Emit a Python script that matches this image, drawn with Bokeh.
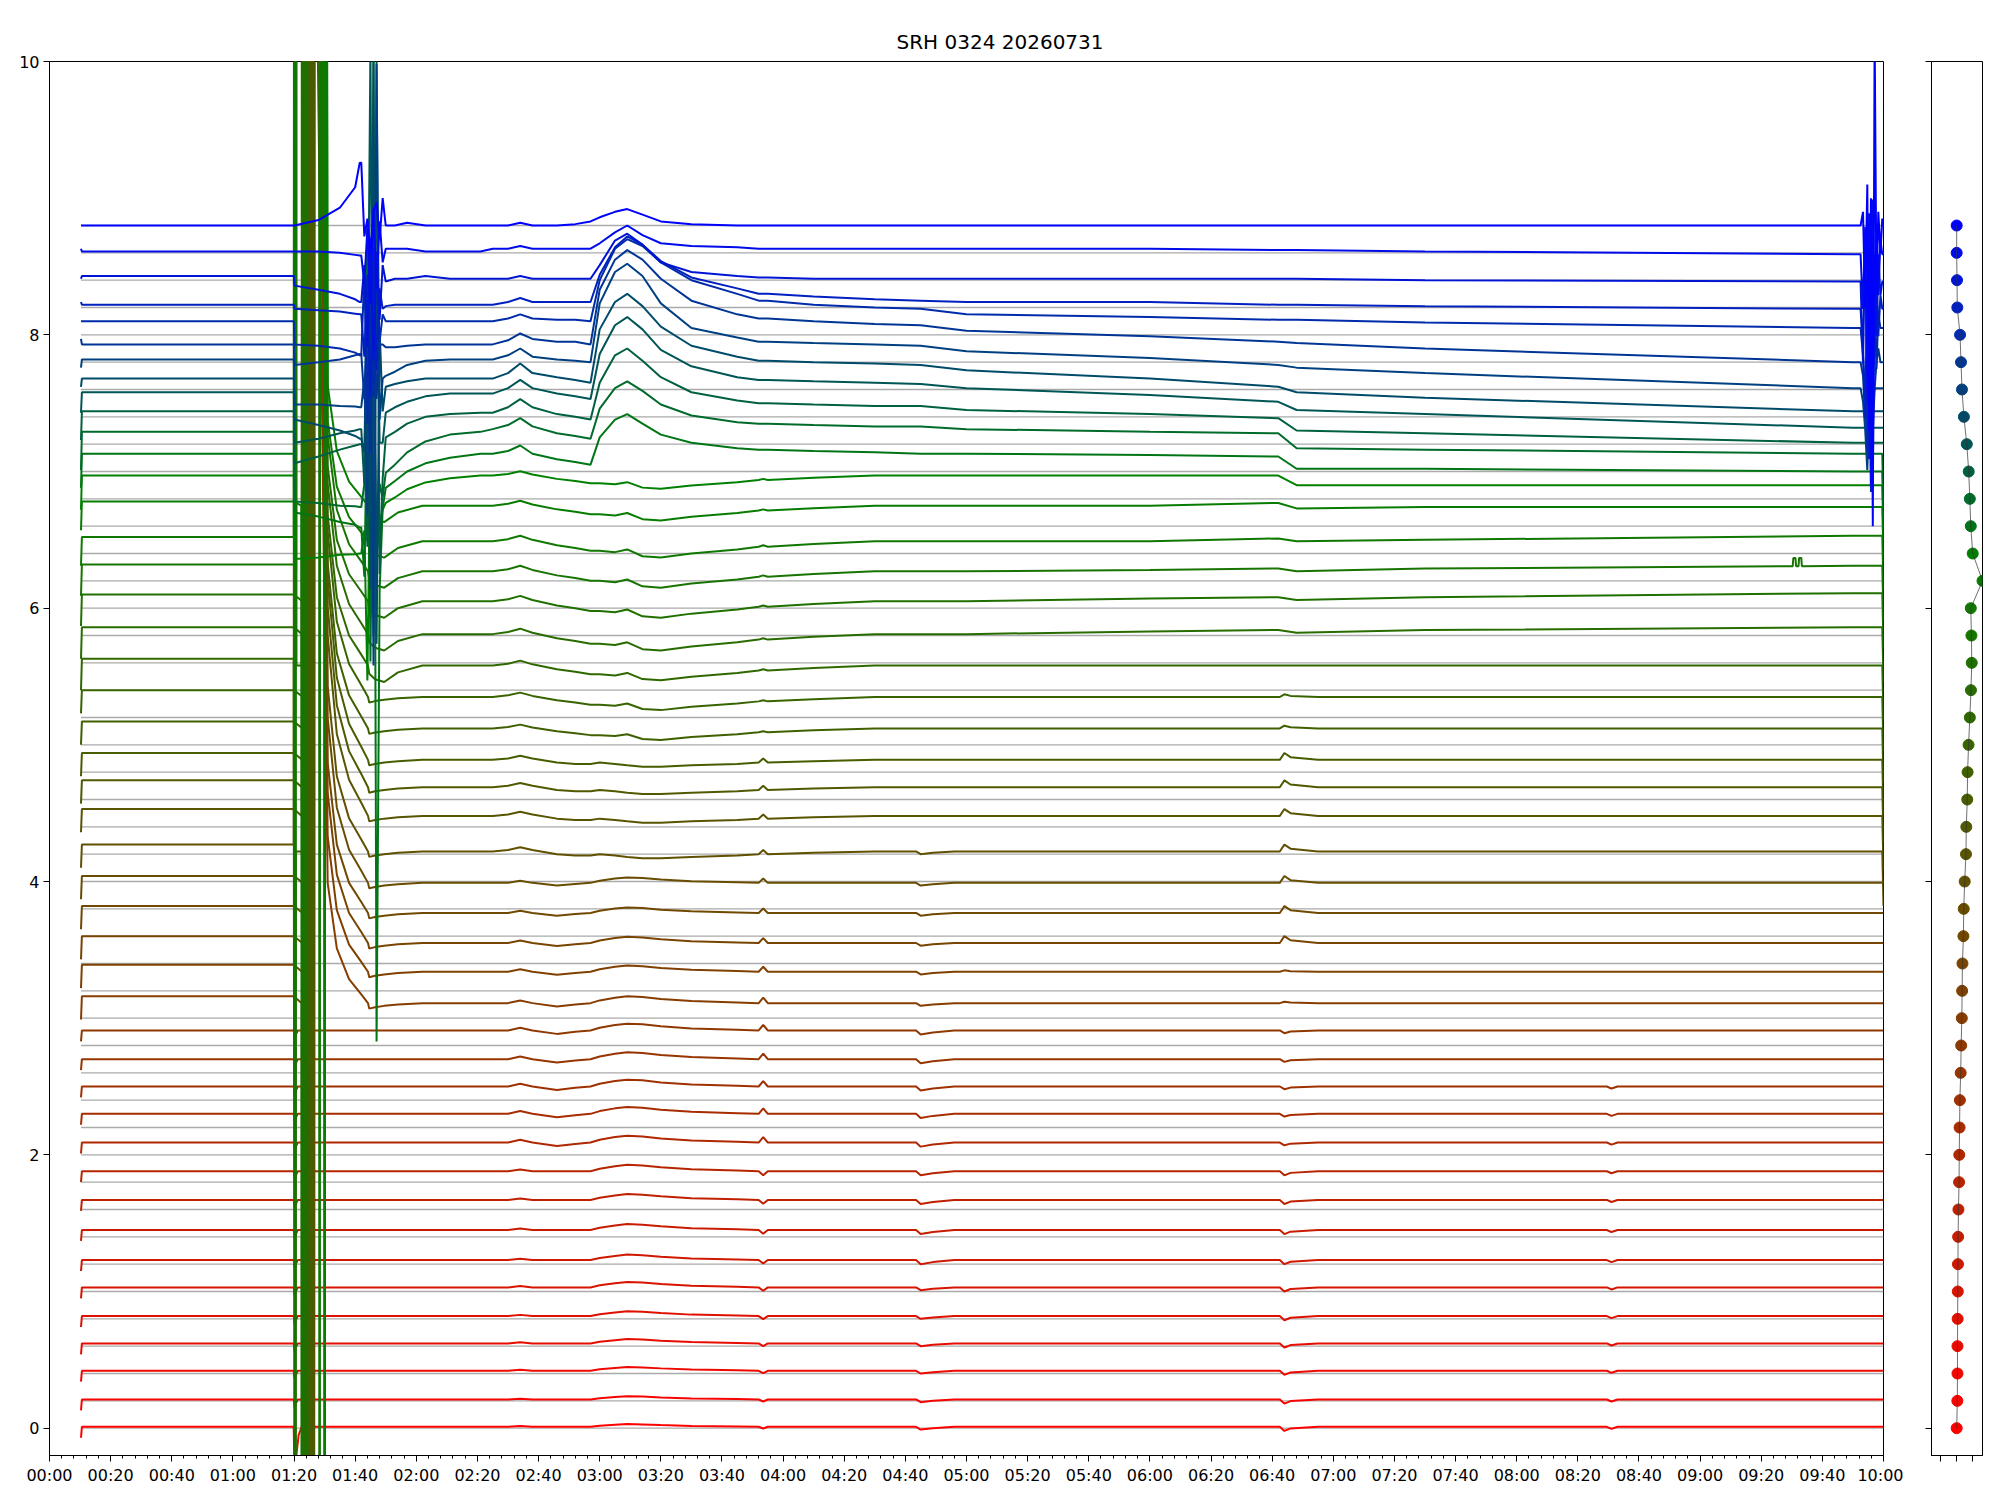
import numpy as np
from bokeh.plotting import figure
from bokeh.layouts import row
from bokeh.models import Range1d, FixedTicker, ColumnDataSource
from bokeh.embed import file_html
from bokeh.resources import INLINE

TITLE = "SRH 0324 20260731"

# ---------------- data ----------------
channel_levels = [0.0, 0.2, 0.4, 0.6, 0.8, 1.0, 1.2, 1.4, 1.6, 1.8, 2.0, 2.2, 2.4, 2.6, 2.8,
                  3.0, 3.2, 3.4, 3.6, 3.8, 4.0, 4.2, 4.4, 4.6, 4.8, 5.0, 5.2, 5.4, 5.6, 5.8,
                  6.0, 6.2, 6.4, 6.6, 6.8, 7.0, 7.2, 7.4, 7.6, 7.8, 8.0, 8.2, 8.4, 8.6, 8.8]

# trace level above its baseline (at 05:00)
trace_dev = [0.01, 0.01, 0.02, 0.02, 0.02, 0.03, 0.03, 0.05, 0.07, 0.08,
             0.09, 0.10, 0.10, 0.10, 0.11, 0.11, 0.14, 0.15, 0.17, 0.19,
             0.22, 0.28, 0.29, 0.29, 0.32, 0.35, 0.38, 0.41, 0.45, 0.47,
             0.49, 0.55, 0.57, 0.53, 0.51, 0.45, 0.41, 0.34, 0.28, 0.23,
             0.15, 0.04, 0.01, 0.03, 0.00]

# drop of the first sample at 00:10
start_drop = [0.08] * 15 + [0.12] * 11 + [0.18] * 6 + [0.25, 0.25] + \
             [0.30, 0.22, 0.18, 0.12, 0.12, 0.06, 0.05] + [0.0, 0.0, 0.0, 0.0]

# level before 01:20, relative to trace_dev
pre_dev = [0.0] * 15 + [0.05] * 15 + [0.03, 0.03] + [0.0, 0.0] + \
          [-0.02, -0.01, -0.03, -0.06, -0.06, -0.10, -0.05] + [-0.02, 0.02, -0.02, 0.0]

# right panel: one value per channel
side_x = [0.01, 0.05, 0.06, 0.06, 0.07, 0.08, 0.09, 0.10, 0.12, 0.16,
          0.17, 0.19, 0.21, 0.26, 0.29, 0.33, 0.35, 0.37, 0.43, 0.45,
          0.51, 0.59, 0.61, 0.67, 0.69, 0.75, 0.83, 0.90, 0.95, 0.93,
          0.89, 1.62, 1.01, 0.89, 0.83, 0.76, 0.64, 0.46, 0.34, 0.28,
          0.22, 0.05, 0.03, 0.01, 0.01]

time_tick_labels = ["00:00", "00:20", "00:40", "01:00", "01:20", "01:40", "02:00", "02:20",
                    "02:40", "03:00", "03:20", "03:40", "04:00", "04:20", "04:40", "05:00",
                    "05:20", "05:40", "06:00", "06:20", "06:40", "07:00", "07:20", "07:40",
                    "08:00", "08:20", "08:40", "09:00", "09:20", "09:40", "10:00"]
time_tick_minutes = [0, 20, 40, 60, 80, 100, 120, 140, 160, 180, 200, 220, 240, 260, 280, 300,
                     320, 340, 360, 380, 400, 420, 440, 460, 480, 500, 520, 540, 560, 580, 600]

T_START, T_END = 10.3, 600.0

# small dips of the low channels at 01:20
dip0120_t = [79.9, 80.2, 80.6, 81.2]
dip0120_v = [0.0, -0.06, -0.03, 0.0]
arc0120_t = [79.9, 80.3, 80.8, 81.5, 82.5]
arc0120_v = [0.0, -0.6, -0.2, -0.06, 0.0]

# burst 01:20-01:31 for channels 15..31 (minute, offset)
burst_seq = {
    15: [(82.5, 0), (82.7, -12), (83.5, 12), (84.3, -12), (85.1, 12)],
    16: [(82.6, 0), (82.9, 12), (83.7, -12), (84.5, 12), (85.3, -12), (86.0, 12)],
    17: [(82.7, 0), (83.1, -12), (83.9, 12), (84.7, -12), (85.5, 12), (86.2, -12), (86.6, 12)],
    18: [(82.8, 0), (83.3, 12), (84.1, -12), (84.9, 12), (85.7, -12), (86.3, 12)],
    19: [(82.9, 0), (83.5, -12), (84.3, 12), (85.1, -12), (85.9, 12), (86.5, -12), (86.8, 12)],
    20: [(79.9, 0), (80.1, 12), (80.4, -12), (80.6, 0), (83.0, 0), (83.2, 12), (84.0, -12),
         (84.8, 12), (85.6, -12), (86.4, 12)],
    21: [(82.5, 0), (82.8, 12), (83.4, -12), (84.2, 12), (85.0, -12), (85.8, 12), (86.5, -12), (86.7, 12)],
    22: [(82.6, 0), (83.0, -12), (83.8, 12), (84.6, -12), (85.4, 12), (86.2, -12), (86.6, 12)],
    23: [(82.7, 0), (83.2, 12), (84.0, -12), (84.8, 12), (85.6, -12), (86.4, 12)],
    24: [(82.8, 0), (83.4, -12), (84.2, 12)],
    25: [(82.9, 0), (83.6, 12), (84.4, -12), (85.2, 12)],
    26: [(79.9, 0), (80.3, -12), (80.6, 12), (80.8, 0), (82.5, 0), (82.6, 12), (83.3, -12), (83.9, 12)],
    27: [(82.6, 0), (82.9, -12), (83.7, 12)],
    28: [(82.7, 0), (83.1, 12), (83.9, -12), (84.5, 12)],
    29: [(80.7, 0), (80.9, 12), (88.2, 12), (88.3, -12), (88.6, 12)],
    30: [(79.9, 0), (80.15, 12), (80.5, -12), (80.7, 12), (89.8, 12), (89.9, -12), (90.2, 12)],
    31: [(82.4, 0), (82.5, -12), (88.4, -12), (88.5, 12), (90.0, 12), (90.1, -12), (90.2, 12)],
}
decay_t = [91.0, 94.0, 98.0, 102.0, 104.2]
decay_v = [1.1, 0.5, 0.22, 0.08, 0.0]
decay_amp = [0.8, 0.9, 1.0, 1.0, 1.1, 1.1, 1.2, 1.2, 1.2, 1.1, 1.1, 1.0, 1.0, 0.9, 0.9, 0.8, 0.8]
brec_t = [104.6, 106.5, 109.5, 114.0, 122.0]
brec_small = [-0.04, -0.03, -0.02, -0.01, 0.0]
brec_large = [-0.06, -0.10, -0.12, -0.05, 0.0]

# upper channels 32..44 between 01:20 and 01:41
up1_t = [79.95, 80.15, 88.0, 95.0, 100.0, 101.5]
up1_rows = {
    32: [0, -0.61, -0.60, -0.58, -0.575, -0.57],
    33: [0, -0.43, -0.46, -0.50, -0.52, -0.54],
    34: [0, -0.53, -0.54, -0.56, -0.565, -0.57],
    35: [0, -0.39, -0.34, -0.29, -0.26, -0.25],
    36: [0, -0.40, -0.37, -0.33, -0.31, -0.30],
    37: [0, -0.36, -0.40, -0.44, -0.48, -0.50],
    38: [0, -0.39, -0.39, -0.40, -0.405, -0.41],
    39: [0, -0.25, -0.23, -0.21, -0.18, -0.17],
    40: [0, -0.22, -0.23, -0.25, -0.28, -0.30],
    41: [0, -0.05, -0.06, -0.07, -0.085, -0.09],
    42: [0, -0.05, -0.08, -0.11, -0.15, -0.17],
    43: [0, -0.02, -0.02, -0.03, -0.045, -0.05],
    44: [0, 0.0, 0.04, 0.13, 0.28, 0.46],
}
# second disturbance 01:42-01:50 and recovery
sp2_t = [102.0, 103.0, 104.0, 105.0, 106.0, 107.0, 108.0, 109.0, 110.0, 113.0, 117.0, 123.0, 131.0, 141.0]
sp2_rows = {
    44: [0.46, -0.08, 0.05, -0.2, 0.1, 0.17, -0.1, 0.2, 0.0, 0.0, 0.02, 0, 0, 0],
    43: [-0.05, -0.25, 0.15, -0.4, 0.3, -0.3, 0.2, -0.1, 0.0, 0.0, 0, -0.02, -0.02, -0.02],
    42: [-0.17, 0.1, -0.5, 0.3, -0.6, 0.2, -0.3, 0.1, -0.02, 0, 0, 0.02, 0, 0],
    41: [-0.09, -0.4, 0.2, -0.7, 0.4, -0.5, 0.1, -0.05, -0.03, -0.02, -0.02, -0.02, -0.02, -0.02],
    40: [-0.3, 0.3, -0.8, 0.2, -0.6, 0.4, -0.2, 0.0, -0.05, -0.05, -0.05, -0.05, -0.05, -0.05],
    39: [-0.17, -0.5, 0.2, -0.9, 0.3, -0.5, -0.1, -0.1, -0.12, -0.12, -0.11, -0.10, -0.10, -0.10],
    38: [-0.41, -0.2, -1.2, 0.5, -2.3, 2.1, -0.5, -0.2, -0.18, -0.15, -0.1, -0.07, -0.06, -0.06],
    37: [-0.5, -0.6, 0.6, -1.6, 2.3, -2.0, 0.3, -0.3, -0.12, -0.1, -0.08, -0.06, -0.06, -0.06],
    36: [-0.3, -0.7, -0.2, 2.5, -1.8, 1.0, -0.4, -0.4, -0.18, -0.14, -0.1, -0.06, -0.04, -0.04],
    35: [-0.25, -0.3, -1.0, 0.8, -1.4, 2.6, -1.2, -0.5, -0.2, -0.16, -0.1, -0.05, -0.03, -0.02],
    34: [-0.57, -0.4, 1.5, -1.7, 0.6, -0.9, -0.4, -0.5, -0.32, -0.26, -0.17, -0.09, -0.04, -0.02],
    33: [-0.54, -0.9, 0.4, -1.2, 2.9, -4.3, -1.0, -0.4, -0.25, -0.2, -0.13, -0.07, -0.03, 0.0],
    32: [-0.57, -0.4, -1.5, 0.3, -0.8, -0.6, -0.35, -0.25, -0.2, -0.16, -0.1, -0.05, -0.02, 0.0],
}

# 02:25 - 04:45
mid_t = [145, 150, 154, 158, 166, 172, 177, 180, 185, 189, 194, 200, 210, 225, 232, 233.5, 235, 250, 270, 285]
mid_shape_low = [0, 0, 0.01, 0, 0, 0, 0, 0.015, 0.03, 0.04, 0.035, 0.025, 0.012, 0.005, 0, -0.025, 0, 0, 0, 0]
mid_shape_lowmid = [0, 0, 0.02, 0, -0.025, -0.01, 0, 0.02, 0.04, 0.05, 0.045, 0.03, 0.015, 0.005, 0, 0.04, 0, 0, 0, 0]
mid_shape_mid = [0, 0.01, 0.03, 0.01, -0.02, -0.03, -0.03, -0.02, -0.03, -0.04, -0.05, -0.05, -0.04, -0.03, -0.02, 0.01, -0.02, -0.01, 0, 0]
mid_shape_mid2 = [0, 0.015, 0.04, 0.01, -0.03, -0.05, -0.07, -0.07, -0.08, -0.06, -0.11, -0.12, -0.09, -0.06, -0.04, -0.03, -0.04, -0.02, 0, 0]
mid_group = ["low"] * 10 + ["lowmid"] * 10 + ["mid"] * 4 + ["mid2"] * 9 + ["up"] * 12
mid_amp = [0.5, 0.6, 0.7, 0.8, 0.9, 1.0, 1.0, 1.1, 1.1, 1.2,
           1.0, 1.0, 1.0, 1.0, 1.0, 1.0, 0.9, 0.9, 0.8, 0.8,
           1.0, 1.0, 1.0, 1.0,
           0.7, 0.8, 0.9, 1.0, 1.0, 1.0, 1.0, 0.9, 0.8] + [1.0] * 12
mid_rows_upper = {
    33: [0, 0.02, 0.06, 0.0, -0.04, -0.06, -0.08, 0.12, 0.25, 0.29, 0.22, 0.14, 0.08, 0.04, 0.03, 0.03, 0.03, 0.02, 0.01, 0.0],
    34: [0, 0.03, 0.08, 0.02, -0.03, -0.05, -0.07, 0.15, 0.30, 0.35, 0.28, 0.18, 0.10, 0.05, 0.04, 0.04, 0.04, 0.03, 0.02, 0.02],
    35: [-0.02, 0.02, 0.08, 0.02, -0.03, -0.05, -0.07, 0.20, 0.40, 0.45, 0.36, 0.24, 0.13, 0.07, 0.05, 0.05, 0.05, 0.04, 0.03, 0.03],
    36: [-0.04, 0.0, 0.06, 0.0, -0.04, -0.06, -0.08, 0.25, 0.46, 0.52, 0.43, 0.28, 0.16, 0.08, 0.06, 0.06, 0.06, 0.05, 0.04, 0.03],
    37: [-0.06, -0.02, 0.05, -0.02, -0.05, -0.07, -0.09, 0.30, 0.50, 0.56, 0.47, 0.32, 0.18, 0.10, 0.07, 0.07, 0.07, 0.06, 0.05, 0.04],
    38: [-0.06, -0.03, 0.02, -0.04, -0.06, -0.07, -0.08, 0.35, 0.58, 0.64, 0.55, 0.35, 0.17, 0.10, 0.07, 0.07, 0.07, 0.06, 0.05, 0.04],
    39: [-0.10, -0.07, -0.02, -0.06, -0.08, -0.08, -0.10, 0.30, 0.52, 0.59, 0.52, 0.38, 0.22, 0.12, 0.09, 0.09, 0.09, 0.07, 0.05, 0.04],
    40: [-0.05, -0.03, 0.00, -0.03, -0.04, -0.04, -0.05, 0.25, 0.48, 0.55, 0.50, 0.38, 0.25, 0.15, 0.10, 0.10, 0.10, 0.07, 0.05, 0.04],
    41: [-0.02, 0.00, 0.03, 0.00, 0.00, 0.00, 0.00, 0.20, 0.40, 0.48, 0.42, 0.30, 0.18, 0.10, 0.06, 0.06, 0.06, 0.04, 0.02, 0.01],
    42: [0, 0, 0.02, 0, 0, 0, 0, 0.10, 0.28, 0.33, 0.25, 0.12, 0.05, 0.02, 0.01, 0.01, 0.01, 0, 0, 0],
    43: [0, 0, 0.02, 0, 0, 0, 0, 0.04, 0.12, 0.17, 0.10, 0.04, 0.02, 0.01, 0, 0, 0, 0, 0, 0],
    44: [0, 0, 0.02, 0, 0, 0.01, 0.03, 0.06, 0.10, 0.12, 0.08, 0.03, 0.01, 0, 0, 0, 0, 0, 0, 0],
}

# slow drift after 05:00 (channels 27..44)
late_t = [300, 360, 402, 408, 450, 590, 600]
late_rows = {
    27: [0, 0.02, 0.03, 0.01, 0.03, 0.05, 0.05],
    28: [0, 0.02, 0.03, 0.01, 0.03, 0.06, 0.06],
    29: [0, 0.01, 0.02, 0.0, 0.02, 0.04, 0.04],
    30: [0, 0.0, 0.02, 0.0, 0.01, 0.04, 0.04],
    31: [0, 0.0, 0.02, -0.02, -0.01, -0.01, -0.01],
    32: [0, 0.0, 0.0, -0.07, -0.07, -0.07, -0.07],
    33: [0, -0.01, -0.02, -0.11, -0.11, -0.13, -0.13],
    34: [0, -0.02, -0.03, -0.14, -0.15, -0.18, -0.18],
    35: [0, -0.03, -0.06, -0.15, -0.17, -0.24, -0.24],
    36: [0, -0.05, -0.10, -0.16, -0.19, -0.29, -0.29],
    37: [0, -0.06, -0.12, -0.16, -0.20, -0.30, -0.30],
    38: [0, -0.05, -0.10, -0.12, -0.16, -0.27, -0.27],
    39: [0, -0.04, -0.08, -0.09, -0.13, -0.23, -0.23],
    40: [0, -0.02, -0.04, -0.04, -0.06, -0.10, -0.10],
    41: [0, 0, -0.02, -0.02, -0.03, -0.05, -0.05],
    42: [0, 0, 0, 0, -0.01, -0.02, -0.02],
    43: [0, 0, -0.01, -0.01, -0.02, -0.04, -0.04],
    44: [0, 0, 0, 0, 0, 0, 0],
}

# small features
e0445_t = [283.5, 285.0, 289.0, 296.0]
e0445_amp = [0.02] * 6 + [0.03] * 9 + [0.02] * 6          # channels 0..20, downward
e0645_t = [402.5, 404.0, 406.0, 415.0]
e0645_amp = [-0.03] * 10 + [-0.02] * 5 + [0.01, 0.01] + [0.05] * 7 + [0.02, 0.02]   # channels 0..25
e0830_t = [509.5, 511.0, 513.0]
e0830_v = [0.0, -0.015, 0.0]                               # channels 0..12
e0930_t = [570.3, 570.5, 571.2, 571.4, 572.2, 572.4, 573.1, 573.3]
e0930_v = [0.0, 0.06, 0.06, 0.0, 0.0, 0.06, 0.06, 0.0]     # channel 29
osc_t = [592.5, 593.3, 594.0, 594.7, 595.3, 595.9, 596.5, 597.1, 597.7, 598.3, 599.0, 599.6]
osc_rows = {
    38: [0, -0.1, -0.3, -0.6, -0.2, -0.4, -0.1, 0, 0, 0, 0, 0],
    39: [0, -0.1, -0.4, -0.2, -0.7, -0.1, -0.5, -0.2, 0.0, 0.1, 0, 0],
    40: [0, -0.2, -0.5, -0.9, 0.1, -1.2, -0.4, 0.1, -0.3, 0.1, 0, 0],
    41: [0, -0.3, -0.8, 0.2, -1.1, 0.2, -0.6, -0.2, 0.3, -0.2, 0.1, 0],
    42: [0, -0.6, 0.3, -0.9, -0.2, 0.3, -1.5, 0.2, -0.4, 0.2, -0.1, 0],
    43: [0, -0.4, 0.2, -1.0, 0.3, -1.7, 0.4, -0.6, 0.2, -0.3, 0.1, 0],
    44: [0, 0.1, -0.6, 0.3, -1.5, 0.2, -2.2, 1.4, -0.5, 0.1, -0.2, 0.05],
}
end_t = [599.6, 600.0]
end_v = [0.0, -0.4]                                         # channels 20..34

# ---------------- build the traces ----------------
N = len(channel_levels)
events = {i: [] for i in range(N)}


def add(i, t, v):
    events[i].append((list(t), list(v)))


for i in range(N):
    add(i, [10.3, 10.6], [-start_drop[i], 0.0])
    add(i, [10.6, 79.95], [pre_dev[i], pre_dev[i]])
add(0, arc0120_t, arc0120_v)
for i in range(1, 15):
    add(i, dip0120_t, dip0120_v)
for k, i in enumerate(range(15, 32)):
    seq = burst_seq[i]
    add(i, [q[0] for q in seq], [q[1] for q in seq])
    add(i, decay_t, [decay_amp[k] * d for d in decay_v])
    add(i, brec_t, brec_large if i >= 26 else brec_small)
for i, r in up1_rows.items():
    add(i, up1_t, r)
for i, r in sp2_rows.items():
    add(i, sp2_t, r)
shapes = {"low": mid_shape_low, "lowmid": mid_shape_lowmid, "mid": mid_shape_mid, "mid2": mid_shape_mid2}
for i in range(N):
    if mid_group[i] == "up":
        add(i, mid_t, mid_rows_upper[i])
    else:
        add(i, mid_t, [mid_amp[i] * q for q in shapes[mid_group[i]]])
for i, r in late_rows.items():
    add(i, late_t, r)
for i, a in enumerate(e0445_amp):
    add(i, e0445_t, [0.0, -a, -0.5 * a, 0.0])
for i, a in enumerate(e0645_amp):
    add(i, e0645_t, [0.0, a, 0.4 * a, 0.0])
for i in range(13):
    add(i, e0830_t, e0830_v)
add(29, e0930_t, e0930_v)
for i, r in osc_rows.items():
    add(i, osc_t, r)
for i in range(20, 35):
    add(i, end_t, end_v)

xs, ys = [], []
for i in range(N):
    knots = {T_START, T_END}
    for t, v in events[i]:
        knots.update(t)
    T = np.array(sorted(knots))
    y = np.full(T.shape, channel_levels[i] + trace_dev[i])
    for t, v in events[i]:
        y = y + np.interp(T, t, v, left=0.0, right=0.0)
    xs.append(T.tolist())
    ys.append(y.tolist())


def color_for(i):
    if i <= 32:
        f = i / 32.0
        r, g, b = 255 * (1 - f), 128 * f, 0
    else:
        f = (i - 32) / 12.0
        r, g, b = 0, 128 * (1 - f), 255 * f
    return "#%02x%02x%02x" % (int(round(r)), int(round(g)), int(round(b)))


colors = [color_for(i) for i in range(N)]

# ---------------- main figure ----------------
FONT = "DejaVu Sans"
LEFT, TOP, BOTTOM = 49, 61, 36
p = figure(width=LEFT + 1834 + 20, height=TOP + 1394 + BOTTOM,
           x_range=Range1d(0, 600), y_range=Range1d(-0.2, 10),
           output_backend="svg", toolbar_location=None,
           min_border_left=LEFT, min_border_right=20, min_border_top=TOP, min_border_bottom=BOTTOM,
           title=TITLE)
p.title.text_font = FONT
p.title.text_font_size = "20px"
p.title.text_font_style = "normal"
p.title.text_color = "black"
p.title.align = "left"
p.title.offset = 847
p.title.standoff = 16
p.xgrid.visible = False
p.ygrid.visible = False
p.outline_line_color = "black"
p.outline_line_alpha = 1.0
p.outline_line_width = 1

p.segment(x0=[T_START] * N, x1=[T_END] * N, y0=channel_levels, y1=channel_levels,
          line_color="#aaaaaa", line_width=1.3)
src = ColumnDataSource(dict(xs=xs, ys=ys, color=colors))
p.multi_line(xs="xs", ys="ys", line_color="color", line_width=2.0, source=src)

minor = [m for m in range(0, 601, 4) if m % 20 != 0]
p.xaxis.ticker = FixedTicker(ticks=time_tick_minutes, minor_ticks=minor)
p.xaxis.major_label_overrides = {m: lab for m, lab in zip(time_tick_minutes, time_tick_labels)}
p.yaxis.ticker = FixedTicker(ticks=[0, 2, 4, 6, 8, 10], minor_ticks=[])
for ax in (p.xaxis, p.yaxis):
    ax.axis_line_color = "black"
    ax.major_tick_line_color = "black"
    ax.minor_tick_line_color = "black"
    ax.major_tick_out = 6
    ax.major_tick_in = 0
    ax.minor_tick_out = 3
    ax.minor_tick_in = 0
    ax.major_label_text_font = FONT
    ax.major_label_text_font_size = "16px"
    ax.major_label_text_color = "black"
    ax.major_label_standoff = 4

# ---------------- side panel ----------------
s = figure(width=28 + 51 + 8, height=TOP + 1394 + BOTTOM,
           x_range=Range1d(-1.56, 1.62), y_range=Range1d(-0.2, 10),
           output_backend="svg", toolbar_location=None,
           min_border_left=28, min_border_right=8, min_border_top=TOP, min_border_bottom=BOTTOM)
s.xgrid.visible = False
s.ygrid.visible = False
s.outline_line_color = "black"
s.outline_line_alpha = 1.0
s.scatter(side_x, channel_levels, size=11, fill_color=colors, line_color=colors)
s.line(side_x, channel_levels, line_color="#333333", line_alpha=0.7, line_width=1)
s.xaxis.ticker = FixedTicker(ticks=[-1, 0, 1], minor_ticks=[])
s.yaxis.ticker = FixedTicker(ticks=[0, 2, 4, 6, 8, 10], minor_ticks=[])
s.xaxis.major_label_overrides = {-1: "", 0: "", 1: ""}
s.yaxis.major_label_overrides = {0: "", 2: "", 4: "", 6: "", 8: "", 10: ""}
for ax in (s.xaxis, s.yaxis):
    ax.axis_line_color = "black"
    ax.major_tick_line_color = "black"
    ax.major_tick_out = 6
    ax.major_tick_in = 0
    ax.minor_tick_line_color = None
    ax.major_label_text_font = FONT
    ax.major_label_text_font_size = "16px"

layout = row(p, s)
open("out.html", "w").write(file_html(layout, INLINE))
